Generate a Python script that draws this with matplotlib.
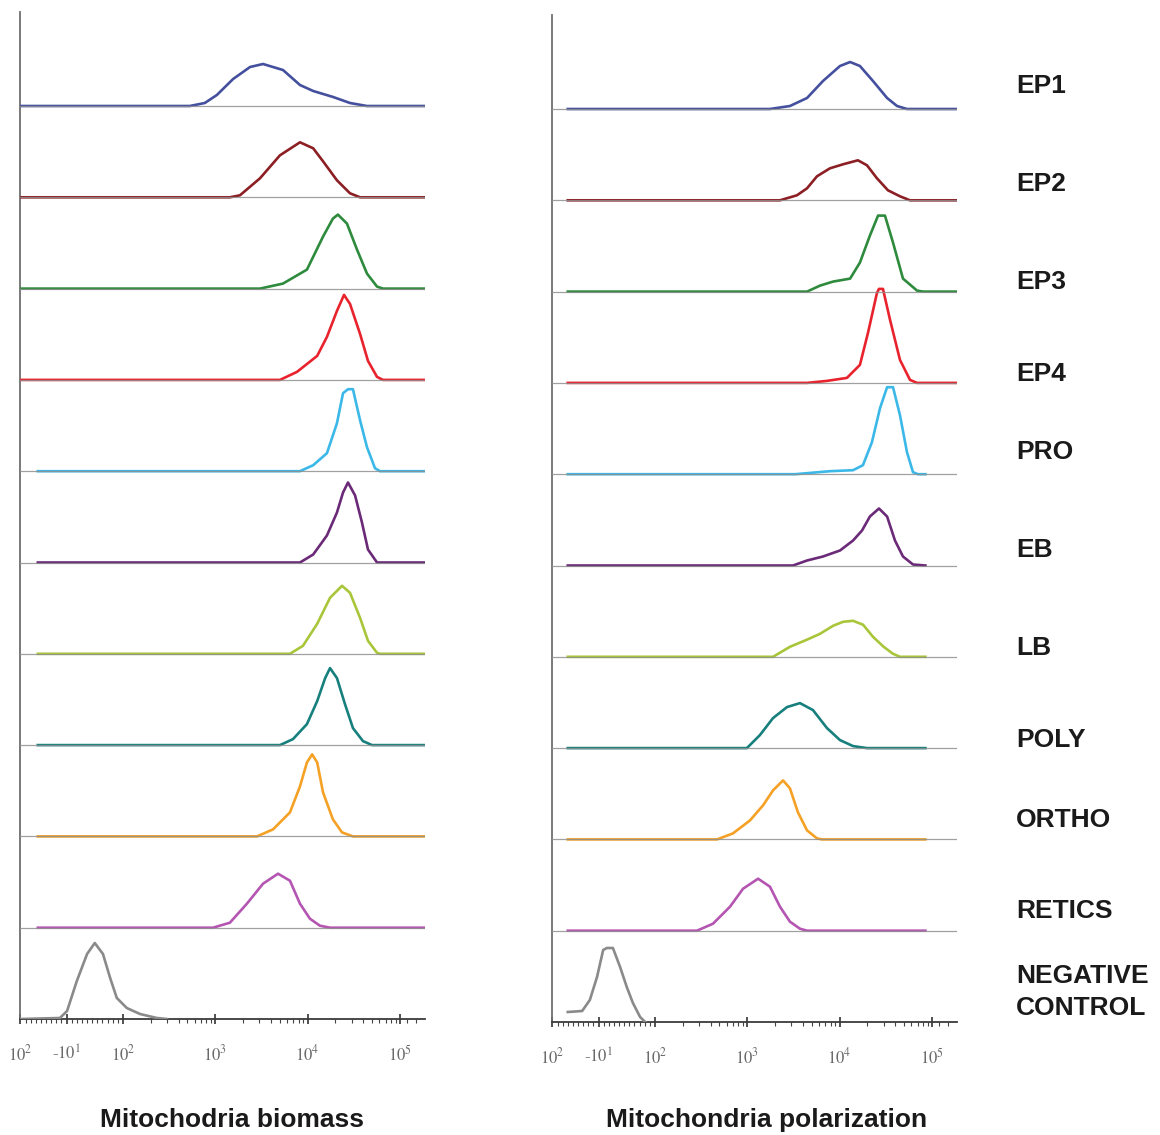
import matplotlib
matplotlib.use("Agg")
import matplotlib.pyplot as plt
import numpy as np

# 細胞集団（上から順に）
populations = ["EP1", "EP2", "EP3", "EP4", "PRO", "EB", "LB", "POLY", "ORTHO",
               "RETICS", "NEGATIVE\nCONTROL"]
colors = ["#44509e", "#8c1f24", "#2e8a3c", "#e8232d", "#3cb8e8", "#6b2a78",
          "#a9c63a", "#17807d", "#f4a125", "#b455b2", "#8a8a8a"]

# --- Mitochondria biomass: 蛍光強度 と 相対カウント ---
bio_ep1_x = [-100, 530, 770, 1040, 1560, 2380, 3290, 5410, 8270, 11500, 18900, 28800, 44000, 187000]
bio_ep1_n = [0, 0, 3, 11, 27, 39, 42, 36, 21, 15, 9, 3, 0, 0]
bio_ep2_x = [-100, 1440, 1850, 3050, 5020, 8270, 11500, 14700, 20800, 28800, 37000, 187000]
bio_ep2_n = [0, 0, 2, 19, 42, 55, 49, 36, 17, 4, 0, 0]
bio_ep3_x = [-100, 3050, 5410, 9840, 14700, 18800, 21300, 26700, 34300, 44000, 56500, 65600, 187000]
bio_ep3_n = [0, 0, 5, 19, 52, 70, 74, 65, 39, 15, 2, 0, 0]
bio_ep4_x = [-100, 5020, 7670, 12700, 16200, 20800, 24800, 28800, 37000, 45100, 56500, 65600, 187000]
bio_ep4_n = [0, 0, 8, 24, 43, 69, 85, 76, 46, 19, 3, 0, 0]
bio_pro_x = [-66, 8270, 11500, 16200, 20800, 24200, 27400, 31000, 37000, 44000, 53700, 60800, 187000]
bio_pro_n = [0, 0, 6, 18, 48, 78, 82, 82, 51, 24, 3, 0, 0]
bio_eb_x = [-66, 8270, 11500, 16200, 20800, 24200, 27400, 32700, 38800, 45100, 56500, 187000]
bio_eb_n = [0, 0, 8, 27, 50, 70, 80, 67, 40, 13, 0, 0]
bio_lb_x = [-66, 6440, 8910, 12700, 17500, 23600, 28800, 37000, 45100, 56500, 60800, 187000]
bio_lb_n = [0, 0, 8, 30, 56, 68, 61, 36, 13, 1, 0, 0]
bio_poly_x = [-66, 5020, 6950, 9840, 12700, 15500, 17500, 20800, 25400, 31000, 39800, 49900, 187000]
bio_poly_n = [0, 0, 6, 21, 44, 67, 77, 67, 41, 17, 4, 0, 0]
bio_ortho_x = [-66, 2830, 4220, 6440, 8270, 9840, 11200, 12700, 14700, 18800, 23600, 31000, 187000]
bio_ortho_n = [0, 0, 7, 24, 50, 74, 82, 74, 44, 17, 4, 0, 0]
bio_retics_x = [-66, 944, 1440, 2200, 3290, 4780, 6440, 8270, 10600, 13600, 17500, 187000]
bio_retics_n = [0, 0, 5, 24, 44, 54, 47, 24, 9, 2, 0, 0]
bio_neg_x = [-100, -23, -9, 10, 30, 45, 61, 75, 88, 110, 153, 233, 300]
bio_neg_n = [0, 1, 8, 38, 65, 76, 65, 41, 21, 11, 5, 1, 0]

# --- Mitochondria polarization ---
pol_ep1_x = [-70, 1760, 2900, 4440, 6610, 10100, 13000, 16600, 23000, 32700, 41900, 53700, 187000]
pol_ep1_n = [0, 0, 3, 11, 28, 43, 47, 43, 28, 11, 3, 0, 0]
pol_ep2_x = [-70, 2260, 3450, 4440, 5690, 7870, 10900, 15800, 19800, 25400, 33400, 45100, 57900, 187000]
pol_ep2_n = [0, 0, 5, 12, 24, 32, 36, 40, 35, 22, 10, 4, 0, 0]
pol_ep3_x = [-70, 4440, 6140, 8490, 13000, 16600, 21300, 26100, 31000, 37900, 48600, 69000, 80200, 187000]
pol_ep3_n = [0, 0, 6, 10, 13, 29, 56, 76, 76, 49, 13, 1, 0, 0]
pol_ep4_x = [-70, 4440, 7300, 12000, 16600, 20300, 25400, 26700, 29500, 35200, 45100, 57900, 69000, 187000]
pol_ep4_n = [0, 0, 2, 5, 18, 50, 90, 94, 94, 63, 23, 3, 0, 0]
pol_pro_x = [-70, 3300, 7870, 14000, 17900, 22400, 27400, 32700, 37900, 45100, 53700, 62400, 70600, 85000]
pol_pro_n = [0, 0, 3, 4, 9, 32, 66, 87, 87, 59, 22, 2, 0, 0]
pol_eb_x = [-70, 3130, 4440, 6610, 10100, 14000, 17500, 21300, 26700, 32700, 39800, 48600, 62400, 85000]
pol_eb_n = [0, 0, 5, 9, 15, 25, 35, 49, 57, 49, 25, 9, 1, 0]
pol_lb_x = [-70, 1900, 2900, 4400, 6140, 8500, 10900, 14000, 18000, 23000, 30000, 37900, 45100, 85000]
pol_lb_n = [0, 0, 10, 17, 23, 31, 35, 36, 32, 20, 10, 3, 0, 0]
pol_poly_x = [-70, 990, 1370, 1900, 2690, 3720, 5150, 7300, 10100, 14000, 19800, 85000]
pol_poly_n = [0, 0, 13, 30, 41, 45, 38, 20, 8, 2, 0, 0]
pol_ortho_x = [-70, 470, 700, 1070, 1480, 1900, 2440, 2900, 3540, 4440, 5690, 6440, 85000]
pol_ortho_n = [0, 0, 6, 19, 34, 49, 59, 51, 27, 9, 1, 0, 0]
pol_retics_x = [-70, 285, 425, 650, 900, 1310, 1760, 2260, 2900, 3720, 4440, 85000]
pol_retics_n = [0, 0, 7, 24, 42, 52, 44, 24, 9, 2, 0, 0]
pol_neg_x = [-70, -42, -27, -13, -1, 6, 18, 32, 45, 57, 71, 81]
pol_neg_n = [10, 11, 22, 45, 72, 74, 74, 55, 35, 19, 5, 0]

tick_values = [-100, -10, 100, 1e3, 1e4, 1e5]
tick_labels = ["$10^2$", "-$10^1$", "$10^2$", "$10^3$", "$10^4$", "$10^5$"]

biomass = [(bio_ep1_x, bio_ep1_n), (bio_ep2_x, bio_ep2_n), (bio_ep3_x, bio_ep3_n),
           (bio_ep4_x, bio_ep4_n), (bio_pro_x, bio_pro_n), (bio_eb_x, bio_eb_n),
           (bio_lb_x, bio_lb_n), (bio_poly_x, bio_poly_n), (bio_ortho_x, bio_ortho_n),
           (bio_retics_x, bio_retics_n), (bio_neg_x, bio_neg_n)]
polarization = [(pol_ep1_x, pol_ep1_n), (pol_ep2_x, pol_ep2_n), (pol_ep3_x, pol_ep3_n),
                (pol_ep4_x, pol_ep4_n), (pol_pro_x, pol_pro_n), (pol_eb_x, pol_eb_n),
                (pol_lb_x, pol_lb_n), (pol_poly_x, pol_poly_n), (pol_ortho_x, pol_ortho_n),
                (pol_retics_x, pol_retics_n), (pol_neg_x, pol_neg_n)]

plt.rcParams["mathtext.fontset"] = "stix"

W, H = 1160, 1135
STEP = 91.3     # 行の間隔
XMIN, XMAX = -100, 1.87e5

fig = plt.figure(figsize=(W / 100, H / 100), dpi=100)


def panel(left_px, top_px, bottom_px, series):
    ax = fig.add_axes([left_px / W, 1 - bottom_px / H, 404.6 / W, (bottom_px - top_px) / H])
    ax.set_xscale("symlog", linthresh=100, linscale=0.5)
    ax.set_xlim(XMIN, XMAX)
    ax.set_ylim(0, 1007)
    n_rows = len(series)
    for i, ((x, n), c) in enumerate(zip(series, colors)):
        base = (n_rows - 1 - i) * STEP
        y = np.asarray(n, dtype=float) + base
        ax.plot(x, y, color=c, lw=1.9, solid_joinstyle="round", zorder=3)
        if i < n_rows - 1:
            ax.plot([XMIN, XMAX], [base, base], color="#8f8f8f", lw=0.9, alpha=0.85, zorder=4)
    for s in ("top", "right"):
        ax.spines[s].set_visible(False)
    ax.spines["left"].set_color("#6e6e6e")
    ax.spines["left"].set_linewidth(1.3)
    ax.spines["bottom"].set_color("#3a3a3a")
    ax.spines["bottom"].set_linewidth(1.3)
    ax.set_yticks([])
    ax.set_xticks(tick_values)
    ax.set_xticklabels(tick_labels)
    minor = list(np.arange(-90, 100, 10))
    for d in (100, 1000, 10000):
        minor += [d * k for k in range(2, 10)]
    minor += [1e5 * k for k in (1.2, 1.5)]
    ax.set_xticks(minor, minor=True)
    ax.tick_params(axis="x", which="major", direction="inout", length=7, width=1.2,
                   color="#333333", pad=15, labelsize=12, labelcolor="#6a6a6a")
    ax.tick_params(axis="x", which="minor", direction="out", length=3, width=0.8,
                   color="#444444")
    for lab in ax.get_xticklabels():
        lab.set_family(["Liberation Serif", "DejaVu Serif"])
    return ax


panel(20.4, 12, 1019, biomass)
panel(552.4, 15, 1022, polarization)

label_y = [86, 184, 282, 374, 452, 550, 648, 740, 820, 911, 992]
for name, yp in zip(populations, label_y):
    fig.text(1016 / W, 1 - yp / H, name, ha="left", va="center", fontsize=19,
             fontweight="bold", color="#1a1a1a", linespacing=1.4,
             family=["Liberation Sans", "DejaVu Sans"])

title_font = ["Liberation Sans Narrow", "Liberation Sans", "DejaVu Sans"]
fig.text(232 / W, 1 - 1120 / H, "Mitochodria biomass", ha="center", va="center",
         fontsize=19, fontweight="bold", color="#1a1a1a", family=title_font)
fig.text(767 / W, 1 - 1120 / H, "Mitochondria polarization", ha="center", va="center",
         fontsize=19, fontweight="bold", color="#1a1a1a", family=title_font)

fig.savefig("out.png", dpi=100, facecolor="white")
